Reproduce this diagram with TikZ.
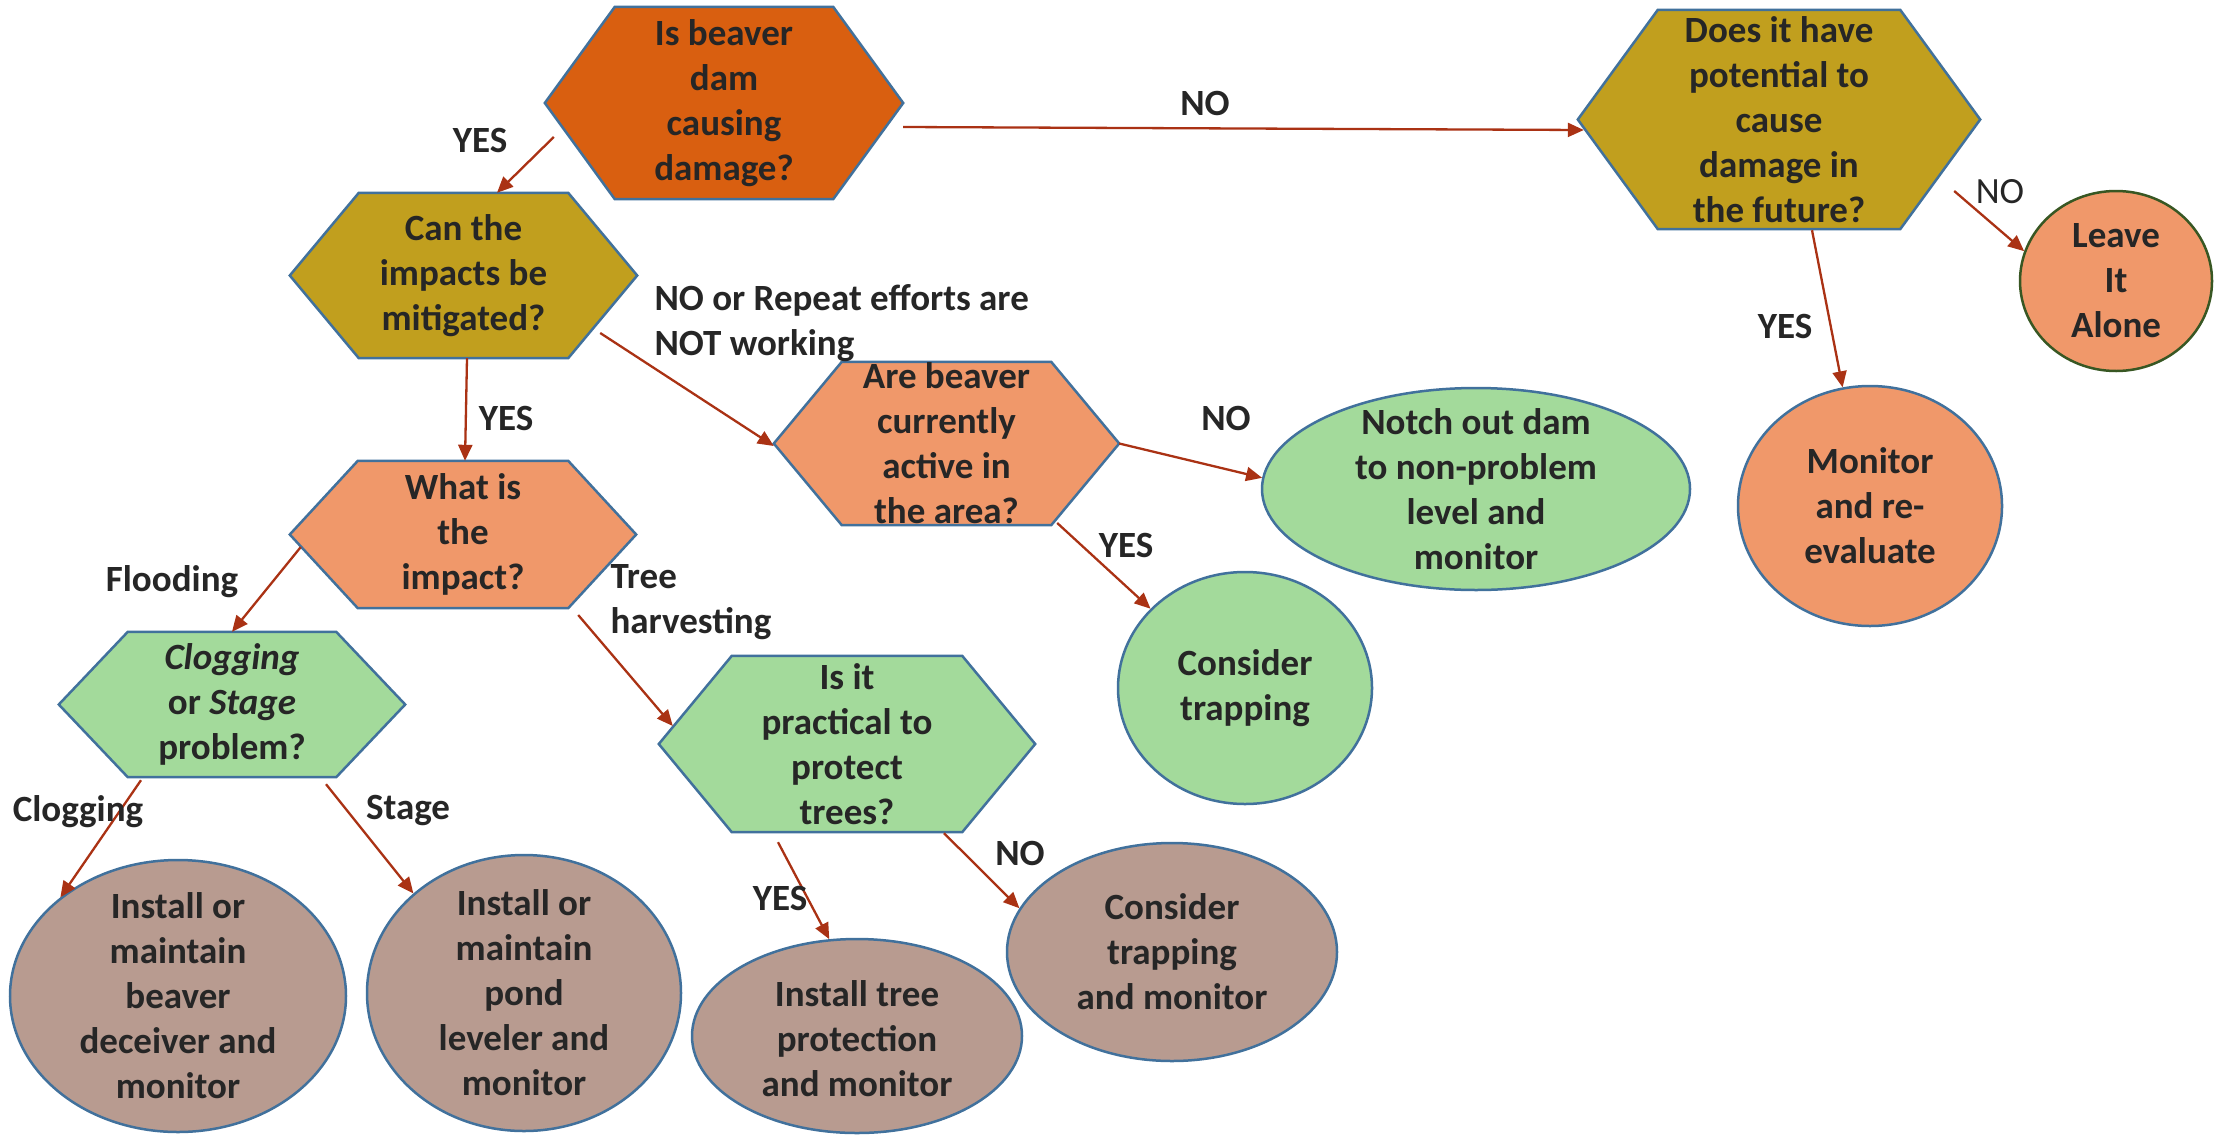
\documentclass[tikz,border=0pt]{standalone}
\usepackage{fontspec}
\setmainfont{Carlito}
\usetikzlibrary{shapes.geometric,arrows.meta,backgrounds}
\definecolor{cDark}{RGB}{217,95,16}
\definecolor{cOlive}{RGB}{193,159,30}
\definecolor{cSalmon}{RGB}{240,152,106}
\definecolor{cGreen}{RGB}{163,218,155}
\definecolor{cBrown}{RGB}{184,155,144}
\definecolor{cBorder}{RGB}{65,113,156}
\definecolor{cDkGreen}{RGB}{56,87,35}
\definecolor{cArrow}{RGB}{170,50,20}
\definecolor{cText}{RGB}{38,38,38}
\begin{document}
\begin{tikzpicture}[x=1pt,y=1pt,
  txt/.style={font=\fontsize{37}{45}\selectfont\bfseries, text=cText, align=center},
  lbl/.style={txt},
  lblreg/.style={font=\fontsize{37}{45}\selectfont, text=cText, align=center},
  hexbox/.style={txt, rectangle, inner sep=0pt},
  oval/.style={ellipse, inner sep=0pt, line width=2.5pt, draw=cBorder},
  hexline/.style={line width=2.5pt, draw=cBorder, line join=miter},
  arr/.style={draw=cArrow, line width=2.3pt, -{Triangle[length=16pt,width=14pt]}}]
\useasboundingbox (0,0) rectangle (2215,-1135);

% hexagon decision nodes
\node[hexbox, minimum width=358pt, minimum height=192pt] (A) at (724,-103) {Is beaver\\dam\\causing\\damage?};
\node[hexbox, minimum width=347pt, minimum height=165pt] (B) at (463.5,-275.5) {Can the\\impacts be\\mitigated?};
\node[hexbox, minimum width=346pt, minimum height=147pt] (C) at (463,-534.5) {What is\\the\\impact?};
\node[hexbox, minimum width=346pt, minimum height=145pt] (D) at (232,-704.5) {\textit{Clogging}\\or \textit{Stage}\\problem?};
\node[hexbox, minimum width=345pt, minimum height=163pt] (F) at (946.5,-443.5) {Are beaver\\currently\\active in\\the area?};
\node[hexbox, minimum width=376pt, minimum height=176pt] (I) at (847,-744) {Is it\\practical to\\protect\\trees?};
\node[hexbox, minimum width=402pt, minimum height=219pt] (L) at (1779,-119.5) {};
\node[txt] (Lt) at (L.center) {Does it have\\potential to\\cause\\damage in\\the future?};

\begin{scope}[on background layer]
  \fill[white] (0,0) rectangle (2215,-1135);
  \foreach \n/\i/\c in {A/70/cDark, B/69/cOlive, C/68/cSalmon, D/69/cGreen, F/68/cSalmon, I/73/cGreen, L/80/cOlive}{
    \filldraw[hexline, fill=\c] (\n.west) -- ([xshift=\i pt]\n.north west) -- ([xshift=-\i pt]\n.north east) -- (\n.east) -- ([xshift=-\i pt]\n.south east) -- ([xshift=\i pt]\n.south west) -- cycle;
  }
\end{scope}

% outcome ellipses
\node[oval, fill=cBrown, minimum width=336pt, minimum height=272pt] (E1) at (178,-996) {};
\node[oval, fill=cBrown, minimum width=314pt, minimum height=276pt] (E2) at (524,-993) {};
\node[oval, fill=cGreen, minimum width=428pt, minimum height=202pt] (G) at (1476,-489) {};
\node[oval, fill=cGreen, minimum width=254pt, minimum height=232pt] (H) at (1245,-688) {};
\node[oval, fill=cBrown, minimum width=330pt, minimum height=194pt] (J) at (857,-1036) {};
\node[oval, fill=cBrown, minimum width=330pt, minimum height=218pt] (K) at (1172,-952) {};
\node[oval, fill=cSalmon, draw=cDkGreen, minimum width=192pt, minimum height=180pt] (M) at (2116,-281) {};
\node[oval, fill=cSalmon, minimum width=264pt, minimum height=240pt] (N) at (1870,-506) {};

\node[txt] (E1t) at (E1.center) {Install or\\maintain\\beaver\\deceiver and\\monitor};
\node[txt] (E2t) at (E2.center) {Install or\\maintain\\pond\\leveler and\\monitor};
\node[txt] (Gt) at (G.center) {Notch out dam\\to non-problem\\level and\\monitor};
\node[txt] (Ht) at (H.center) {Consider\\trapping};
\node[txt] (Jt) at ([yshift=-3pt]J.center) {Install tree\\protection\\and monitor};
\node[txt] (Kt) at (K.center) {Consider\\trapping\\and monitor};
\node[txt] (Mt) at (M.center) {Leave\\It\\Alone};
\node[txt] (Nt) at (N.center) {Monitor\\and re-\\evaluate};

% connectors
\draw[arr] ([shift={(9,-34)}]A.west) -- ([xshift=33.5pt]B.north);
\draw[arr] ([yshift=-24pt]A.east) -- ([shift={(6,-10.5)}]L.west);
\draw[arr] ([xshift=3.5pt]B.south) -- ([xshift=2pt]C.north);
\draw[arr] ([shift={(-37,-57.5)}]B.east) -- ([yshift=-2.5pt]F.west);
\draw[arr] ([shift={(11,-12.5)}]C.west) -- (D.north);
\draw[arr] ([shift={(-58,-80.5)}]C.east) -- ([shift={(14,18)}]I.west);
\draw[arr] ([shift={(-91,-3)}]D.south) -- (E1.140);
\draw[arr] ([shift={(94,-7)}]D.south) -- (E2.138);
\draw[arr] (F.east) -- (G.177);
\draw[arr] ([shift={(-62,-79.5)}]F.east) -- (H.140);
\draw[arr] ([shift={(-69,-10)}]I.south) -- (J.106);
\draw[arr] ([shift={(97,-1)}]I.south) -- (K.164);
\draw[arr] ([shift={(33,-1)}]L.south) -- (N.103);
\draw[arr] ([shift={(-26,-71.5)}]L.east) -- (M.162);

% connector labels
\node[lbl] (l1) at (480,-140) {YES};
\node[lbl] (l2) at (1205,-103) {NO};
\node[lbl] (l3) at (506,-418) {YES};
\node[lbl, anchor=west, align=left] (l4) at (651,-323) {NO or Repeat efforts are\\NOT working};
\node[lbl] (l5) at (172,-582) {Flooding};
\node[lbl, anchor=west, align=left] (l6) at (607,-602) {Tree\\harvesting};
\node[lbl] (l7) at (78,-812) {Clogging};
\node[lbl] (l8) at (408,-810) {Stage};
\node[lbl] (l9) at (1226,-418) {NO};
\node[lbl] (l10) at (1126,-545) {YES};
\node[lbl] (l11) at (780,-898) {YES};
\node[lbl] (l12) at (1020,-853) {NO};
\node[lbl] (l13) at (1785,-326) {YES};
\node[lblreg] (l14) at (2000,-192) {NO};
\end{tikzpicture}
\end{document}
